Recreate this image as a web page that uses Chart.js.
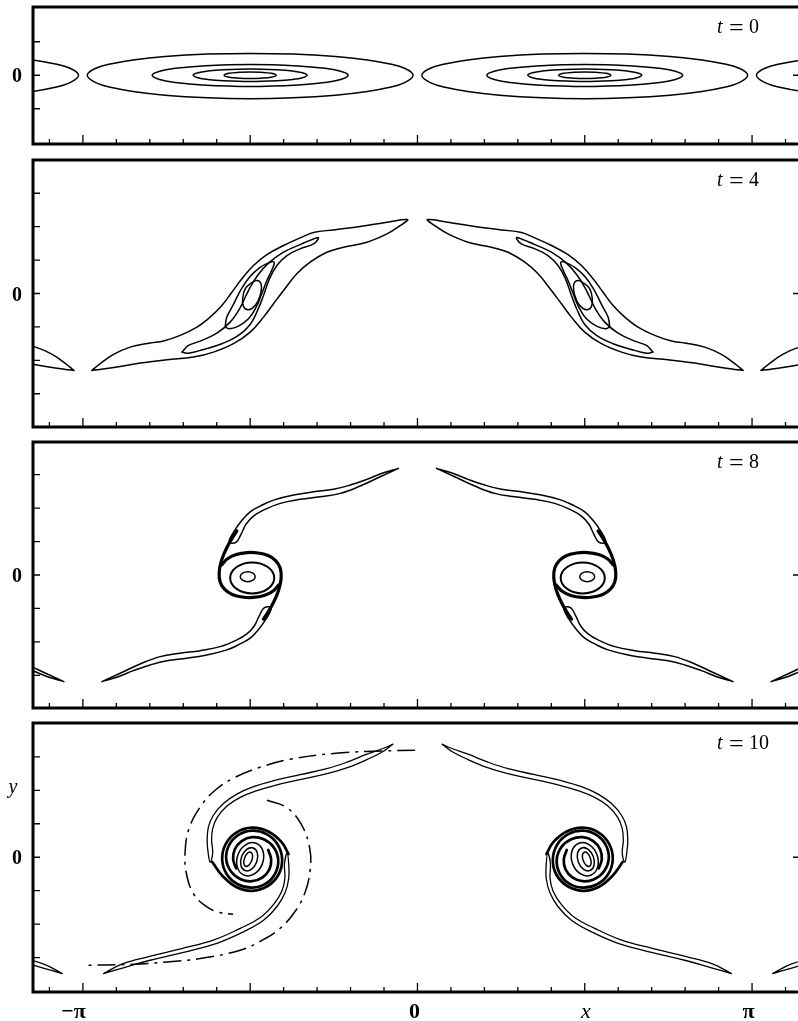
<!DOCTYPE html>
<html>
<head>
<meta charset="utf-8">
<script src="https://cdn.jsdelivr.net/npm/chart.js@4/dist/chart.umd.min.js"></script>
<style>
  html, body { margin: 0; padding: 0; background: #fff; overflow: hidden; width: 798px; height: 1021px; }
  #wrap { position: relative; width: 798px; height: 1021px; overflow: hidden; background: #fff; }
  #wrap canvas { position: absolute; left: 0; }
</style>
</head>
<body>
<div id="wrap">
  <canvas id="panel0" width="820" height="152" style="top:0px"></canvas>
  <canvas id="panel1" width="820" height="283" style="top:152px"></canvas>
  <canvas id="panel2" width="820" height="280" style="top:435px"></canvas>
  <canvas id="panel3" width="820" height="306" style="top:715px"></canvas>
</div>
<script>
// ---------------------------------------------------------------------------
// Vorticity contours of a rolling-up shear layer at four times.
// Every contour is a list of [dx, y] pairs: dx is measured from the centre of
// the vortex at x = -π/2.  The vortex at x = +π/2 is its mirror image, and the
// whole pattern repeats with period 2π in x.
// ---------------------------------------------------------------------------

const xLimits = [-3.61, 3.62];
const xTickSteps = [-11, -10, -9, -8, -7, -6, -5, -4, -3, -2, -1, 0, 1, 2, 3, 4, 5, 6, 7, 8, 9, 10, 11]; // × π/10
const xTickLabels = ['−π', '0', 'x', 'π'];
const xTickLabelSteps = [-10, 0, 5, 10];
const snapshotTimes = ['0', '4', '8', '10'];
const yLimits = [[-0.645, 0.64], [-1.255, 1.255], [-1.25, 1.25], [-1.265, 1.26]];
const yTickSteps = [[-1, 0, 1], [-3, -2, -1, 0, 1, 2, 3], [-3, -2, -1, 0, 1, 2, 3], [-3, -2, -1, 0, 1, 2, 3]]; // × π/10

// ---- t = 0 : nested elliptical contours ----------------------------------
const t0Contour1 = [[-1.53,0],[-1.45,0.066],[-1.3,0.108],[-1.1,0.143],[-0.8,0.175],[-0.4,0.198],[0,0.205],[0.4,0.198],[0.8,0.175],[1.1,0.143],[1.3,0.108],[1.45,0.066],[1.53,0],[1.45,-0.07],[1.3,-0.116],[1.1,-0.153],[0.8,-0.188],[0.4,-0.212],[0,-0.22],[-0.4,-0.212],[-0.8,-0.188],[-1.1,-0.153],[-1.3,-0.116],[-1.45,-0.07]];
const t0Contour2 = [[-0.92,0],[-0.85,0.038],[-0.7,0.065],[-0.45,0.087],[0,0.1],[0.45,0.087],[0.7,0.065],[0.85,0.038],[0.92,0],[0.85,-0.04],[0.7,-0.068],[0.45,-0.091],[0,-0.105],[-0.45,-0.091],[-0.7,-0.068],[-0.85,-0.04]];
const t0Contour3 = [[-0.535,0],[-0.49,0.023],[-0.4,0.039],[-0.25,0.051],[0,0.058],[0.25,0.051],[0.4,0.039],[0.49,0.023],[0.535,0],[0.49,-0.023],[0.4,-0.039],[0.25,-0.051],[0,-0.058],[-0.25,-0.051],[-0.4,-0.039],[-0.49,-0.023]];
const t0Contour4 = [[-0.245,0],[-0.2,0.018],[-0.1,0.028],[0,0.031],[0.1,0.028],[0.2,0.018],[0.245,0],[0.2,-0.018],[0.1,-0.028],[0,-0.031],[-0.1,-0.028],[-0.2,-0.018]];

// ---- t = 4 : tilted, stretched contours ----------------------------------
const t4Outer = [[-1.487,-0.723],[-1.408,-0.660],[-1.283,-0.573],[-1.127,-0.504],[-0.939,-0.466],[-0.814,-0.447],[-0.657,-0.394],[-0.5,-0.316],[-0.376,-0.222],[-0.266,-0.113],[-0.172,0.012],[-0.078,0.138],[0.031,0.263],[0.157,0.366],[0.313,0.451],[0.469,0.523],[0.595,0.573],[0.782,0.598],[1.033,0.629],[1.284,0.670],[1.477,0.695],[1.408,0.638],[1.284,0.560],[1.096,0.482],[0.876,0.435],[0.720,0.388],[0.563,0.294],[0.438,0.185],[0.313,0.028],[0.219,-0.097],[0.125,-0.222],[0,-0.363],[-0.157,-0.472],[-0.345,-0.551],[-0.532,-0.598],[-0.782,-0.623],[-1.033,-0.654],[-1.252,-0.692],[-1.408,-0.714],[-1.487,-0.723]];
const t4Middle = [[-0.641,-0.551],[-0.579,-0.488],[-0.469,-0.448],[-0.313,-0.373],[-0.188,-0.269],[-0.100,-0.144],[-0.016,0.028],[0.069,0.169],[0.172,0.285],[0.313,0.388],[0.469,0.460],[0.595,0.513],[0.642,0.523],[0.595,0.467],[0.469,0.420],[0.345,0.357],[0.251,0.263],[0.181,0.138],[0.125,-0.019],[0.069,-0.160],[0,-0.291],[-0.110,-0.394],[-0.266,-0.472],[-0.438,-0.526],[-0.579,-0.561],[-0.641,-0.551]];
const t4Inner = [[-0.235,-0.316],[-0.219,-0.222],[-0.157,-0.103],[-0.088,0.035],[-0.007,0.153],[0.087,0.241],[0.172,0.288],[0.225,0.294],[0.204,0.222],[0.157,0.122],[0.110,0.003],[0.056,-0.129],[-0.016,-0.238],[-0.110,-0.307],[-0.194,-0.331],[-0.235,-0.316]];
const t4Core = [[0,0.091],[0.063,0.122],[0.103,0.085],[0.094,-0.019],[0.047,-0.113],[-0.016,-0.153],[-0.063,-0.122],[-0.069,-0.035],[-0.047,0.044]];

// ---- t = 8 : two arms winding into the core -------------------------------
const t8UpperArm = [[1.392,1.002],[1.253,0.961],[1.096,0.899],[0.939,0.845],[0.782,0.805],[0.594,0.782],[0.407,0.751],[0.219,0.704],[0.094,0.648],[0,0.594],[-0.075,0.516],[-0.150,0.413],[-0.197,0.310],[-0.131,0.310],[-0.085,0.385],[-0.038,0.479],[0.031,0.554],[0.125,0.610],[0.282,0.673],[0.469,0.711],[0.657,0.735],[0.845,0.767],[1.033,0.836],[1.221,0.923],[1.392,1.002]];
const t8LowerArm = [[-1.392,-1.002],[-1.253,-0.961],[-1.096,-0.899],[-0.939,-0.845],[-0.782,-0.805],[-0.594,-0.782],[-0.407,-0.751],[-0.219,-0.704],[-0.094,-0.648],[0,-0.594],[0.075,-0.516],[0.150,-0.413],[0.197,-0.310],[0.131,-0.310],[0.085,-0.385],[0.038,-0.479],[-0.031,-0.554],[-0.125,-0.610],[-0.282,-0.673],[-0.469,-0.711],[-0.657,-0.735],[-0.845,-0.767],[-1.033,-0.836],[-1.221,-0.923],[-1.392,-1.002]];
const t8SpiralA = [[-0.125,0.415],[-0.169,0.347],[-0.221,0.254],[-0.268,0.141],[-0.291,0.028],[-0.282,-0.066],[-0.239,-0.136],[-0.169,-0.183],[-0.075,-0.207],[0.028,-0.211],[0.131,-0.192],[0.216,-0.150],[0.268,-0.094]];
const t8SpiralB = [[0.125,-0.415],[0.169,-0.347],[0.221,-0.254],[0.268,-0.141],[0.291,-0.028],[0.282,0.066],[0.239,0.136],[0.169,0.183],[0.075,0.207],[-0.028,0.211],[-0.131,0.192],[-0.216,0.150],[-0.268,0.094]];
const t8Ring = [[0.226,-0.028],[0.165,0.075],[0.019,0.118],[-0.127,0.075],[-0.188,-0.028],[-0.127,-0.131],[0.019,-0.174],[0.165,-0.131]];
const t8Core = [[0.047,-0.016],[0.026,0.017],[-0.023,0.031],[-0.072,0.017],[-0.093,-0.016],[-0.072,-0.049],[-0.023,-0.063],[0.026,-0.049]];

// ---- t = 10 : tighter spiral, with the dash-dot curve ---------------------
const t10UpperArm = [[1.340,1.061],[1.252,1.023],[1.096,0.967],[0.908,0.892],[0.720,0.831],[0.469,0.775],[0.219,0.718],[0.031,0.662],[-0.125,0.592],[-0.251,0.504],[-0.345,0.394],[-0.392,0.285],[-0.404,0.160],[-0.394,0.038],[-0.376,-0.047],[-0.352,0.038],[-0.362,0.160],[-0.352,0.268],[-0.308,0.376],[-0.218,0.480],[-0.098,0.560],[0.056,0.622],[0.235,0.675],[0.479,0.731],[0.732,0.787],[0.920,0.843],[1.099,0.918],[1.239,0.988],[1.340,1.061]];
const t10LowerArm = [[-1.377,-1.092],[-1.190,-1.038],[-0.939,-0.967],[-0.626,-0.892],[-0.313,-0.808],[-0.063,-0.700],[0.125,-0.592],[0.254,-0.460],[0.329,-0.329],[0.362,-0.197],[0.362,-0.066],[0.347,0.038],[0.322,-0.066],[0.326,-0.197],[0.298,-0.318],[0.224,-0.438],[0.096,-0.566],[-0.088,-0.665],[-0.333,-0.773],[-0.643,-0.858],[-0.954,-0.933],[-1.205,-1.003],[-1.377,-1.092]];
const t10SpiralA = [[-0.356,-0.045],[-0.257,-0.178],[-0.131,-0.279],[0.019,-0.315],[0.164,-0.270],[0.267,-0.162],[0.300,-0.019],[0.258,0.120],[0.155,0.217],[0.019,0.249],[-0.113,0.208],[-0.201,0.108],[-0.225,-0.019],[-0.180,-0.134],[-0.089,-0.206],[0.019,-0.225],[0.117,-0.190],[0.181,-0.113],[0.197,-0.019],[0.169,0.068]];
const t10SpiralB = [[0.360,0.030],[0.295,0.141],[0.169,0.241],[0.019,0.277],[-0.127,0.233],[-0.229,0.125],[-0.263,-0.019],[-0.221,-0.158],[-0.117,-0.254],[0.019,-0.286],[0.150,-0.246],[0.238,-0.146],[0.263,-0.019],[0.218,0.097],[0.127,0.168],[0.019,0.188],[-0.080,0.152],[-0.144,0.075],[-0.160,-0.019],[-0.131,-0.105]];
const t10Ring1 = [[0.115,-0.060],[0.120,0.058],[0.055,0.131],[-0.043,0.117],[-0.115,0.023],[-0.120,-0.095],[-0.055,-0.169],[0.043,-0.154]];
const t10Ring2 = [[0.061,-0.045],[0.068,0.038],[0.029,0.087],[-0.032,0.074],[-0.080,0.007],[-0.087,-0.076],[-0.048,-0.125],[0.013,-0.112]];
const t10Core = [[0.015,-0.031],[0.022,0.019],[0.005,0.047],[-0.026,0.037],[-0.052,-0.007],[-0.060,-0.057],[-0.043,-0.085],[-0.012,-0.074]];
const t10DashOuter = [[1.549,1.005],[1.252,0.998],[0.782,0.974],[0.376,0.920],[0.094,0.845],[-0.141,0.751],[-0.329,0.629],[-0.469,0.472],[-0.573,0.272],[-0.610,0.066],[-0.601,-0.141],[-0.535,-0.338],[-0.423,-0.455],[-0.300,-0.516],[-0.160,-0.535]];
const t10DashInner = [[0.157,0.535],[0.345,0.465],[0.479,0.310],[0.559,0.085],[0.563,-0.122],[0.516,-0.329],[0.423,-0.507],[0.282,-0.667],[0.113,-0.779],[-0.094,-0.873],[-0.469,-0.951],[-0.782,-0.983],[-1.096,-1.005],[-1.565,-1.014]];

// ---------------------------------------------------------------------------
const INK = '#000';
const THIN = 1.5;
const DASH_DOT = [18, 6, 3, 6];
const vortexX = -Math.PI / 2;
const period = 2 * Math.PI;

// Vortex placements visible in the window: the two vortices and the
// neighbouring periodic copies that poke in at both edges.
const placements = [
  { cx: vortexX, mirror: false },
  { cx: -vortexX, mirror: true },
  { cx: vortexX + period, mirror: false },
  { cx: -vortexX - period, mirror: true }
];

const panelContours = [
  [
    { pts: t0Contour1, closed: true }, { pts: t0Contour2, closed: true },
    { pts: t0Contour3, closed: true }, { pts: t0Contour4, closed: true }
  ],
  [
    { pts: t4Outer }, { pts: t4Middle }, { pts: t4Inner }, { pts: t4Core, closed: true }
  ],
  [
    { pts: t8UpperArm }, { pts: t8LowerArm },
    { pts: t8SpiralA, width: 3.2 }, { pts: t8SpiralB, width: 3.2 },
    { pts: t8Ring, closed: true, width: 2 }, { pts: t8Core, closed: true }
  ],
  [
    { pts: t10UpperArm, width: 1.3 }, { pts: t10LowerArm, width: 1.3 },
    { pts: t10SpiralA, width: 2.7 }, { pts: t10SpiralB, width: 2.7 },
    { pts: t10Ring1, closed: true }, { pts: t10Ring2, closed: true }, { pts: t10Core, closed: true },
    { pts: t10DashOuter, dash: DASH_DOT, only: 1 }, { pts: t10DashInner, dash: DASH_DOT, only: 1 }
  ]
];

// canvas padding that puts each frame in place
const panelPadding = [
  { top: 7, bottom: 8 },
  { top: 8, bottom: 8 },
  { top: 7, bottom: 7 },
  { top: 8, bottom: 29 }
];

function buildDatasets(contours) {
  const sets = [];
  contours.forEach(c => {
    const where = c.only ? placements.slice(0, c.only) : placements;
    where.forEach(p => {
      sets.push({
        data: c.pts.map(([dx, y]) => ({ x: p.cx + (p.mirror ? -dx : dx), y: y })),
        borderColor: INK,
        borderWidth: c.width || THIN,
        borderDash: c.dash || [],
        borderCapStyle: c.dash ? 'butt' : 'round',
        borderJoinStyle: 'round',
        pointRadius: 0,
        pointHoverRadius: 0,
        fill: false,
        tension: 0.4,
        closedContour: !!c.closed
      });
    });
  });
  return sets;
}

// Closed contours are joined smoothly back onto their first point.
const closedContourPlugin = {
  id: 'closedContour',
  afterDatasetUpdate(chart, args) {
    const ds = chart.data.datasets[args.index];
    const line = args.meta.dataset;
    if (ds && ds.closedContour && line) {
      line._loop = true;
      line._fullLoop = true;
      delete line._segments;
      delete line._path;
      line._pointsUpdated = false;
    }
  }
};

// Frame, inward ticks and labels.
const framePlugin = {
  id: 'frame',
  afterDatasetsDraw(chart, _args, opts) {
    const { ctx, chartArea: a } = chart;
    const xs = chart.scales.x, ys = chart.scales.y;
    const step = Math.PI / 10;
    ctx.save();
    ctx.strokeStyle = INK;
    ctx.fillStyle = INK;
    ctx.lineWidth = 1.3;
    ctx.beginPath();
    xTickSteps.forEach(k => {
      const px = xs.getPixelForValue(k * step);
      const len = k % 5 === 0 ? 9 : 5;
      ctx.moveTo(px, a.bottom);
      ctx.lineTo(px, a.bottom - len);
    });
    opts.yTicks.forEach(k => {
      const py = ys.getPixelForValue(k * step);
      ctx.moveTo(a.left, py);
      ctx.lineTo(a.left + 7, py);
      ctx.moveTo(a.right, py);
      ctx.lineTo(a.right - (k === 0 ? 10 : 5), py);
    });
    ctx.stroke();
    ctx.lineWidth = 3;
    ctx.strokeRect(a.left, a.top, a.right - a.left, a.bottom - a.top);

    const serif = '"Liberation Serif", "DejaVu Serif", serif';
    ctx.textBaseline = 'alphabetic';

    // y = 0 label
    ctx.textAlign = 'center';
    ctx.font = 'bold 20px ' + serif;
    ctx.fillText('0', 17, ys.getPixelForValue(0) + 7);

    // time stamp
    const base = a.top + 26;
    ctx.textAlign = 'left';
    ctx.font = 'italic 20px ' + serif;
    ctx.fillText('t', 717, base);
    ctx.font = '26px ' + serif;
    ctx.fillText('=', 729, base + 3);
    ctx.font = '20px ' + serif;
    ctx.fillText(opts.time, 749, base);

    if (opts.axisLabels) {
      ctx.textAlign = 'center';
      ctx.font = 'italic 20px ' + serif;
      ctx.fillText('y', 13, ys.getPixelForValue(2 * step) + 3);
      const nudges = [0, -3, 1, -3.5];
      xTickLabels.forEach((txt, i) => {
        const px = xs.getPixelForValue(xTickLabelSteps[i] * step) + nudges[i];
        ctx.font = (txt === 'x' ? 'italic 22px ' : 'bold 22px ') + serif;
        if (i === 0) { ctx.textAlign = 'right'; ctx.fillText(txt, px + 3, a.bottom + 26); ctx.textAlign = 'center'; }
        else ctx.fillText(txt, px, a.bottom + 26);
      });
    }
    ctx.restore();
  }
};

snapshotTimes.forEach((time, i) => {
  new Chart(document.getElementById('panel' + i), {
    type: 'line',
    data: { datasets: buildDatasets(panelContours[i]) },
    options: {
      responsive: false,
      animation: false,
      devicePixelRatio: 1,
      events: [],
      layout: { padding: { left: 33, right: 17, top: panelPadding[i].top, bottom: panelPadding[i].bottom } },
      scales: {
        x: { type: 'linear', min: xLimits[0], max: xLimits[1], display: false },
        y: { type: 'linear', min: yLimits[i][0], max: yLimits[i][1], display: false }
      },
      plugins: {
        legend: { display: false },
        tooltip: { enabled: false },
        frame: { time: time, yTicks: yTickSteps[i], axisLabels: i === 3 }
      }
    },
    plugins: [closedContourPlugin, framePlugin]
  });
});
</script>
</body>
</html>
